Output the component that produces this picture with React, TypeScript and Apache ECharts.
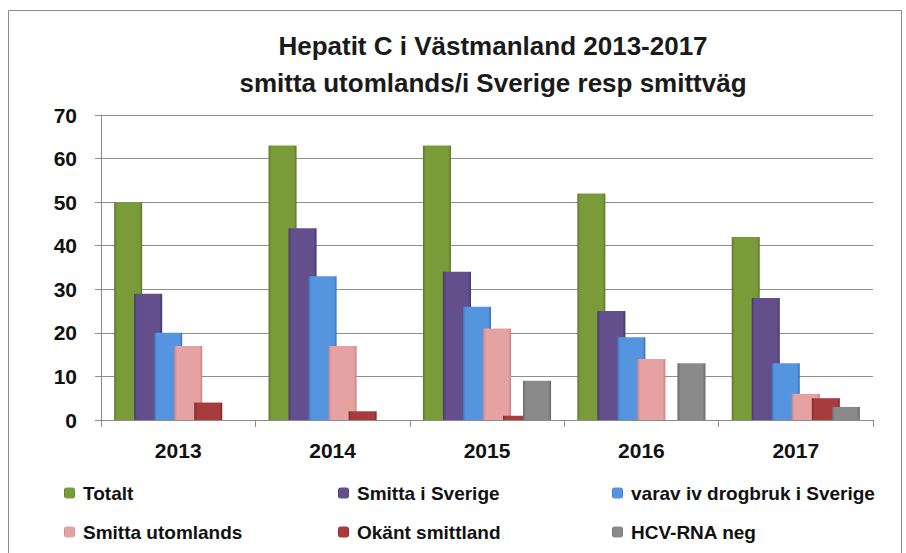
import React, { useEffect, useRef } from "react";
import * as echarts from "echarts";

const categories = ["2013", "2014", "2015", "2016", "2017"];
const seriesNames = [
  "Totalt",
  "Smitta i Sverige",
  "varav iv drogbruk i Sverige",
  "Smitta utomlands",
  "Okänt smittland",
  "HCV-RNA neg",
];
const totalt = [50, 63, 63, 52, 42];
const smittaSverige = [29, 44, 34, 25, 28];
const varavIv = [20, 33, 26, 19, 13];
const smittaUtomlands = [17, 17, 21, 14, 6];
const okantSmittland = [4, 2, 1, 0, 5];
const hcvRnaNeg = [0, 0, 9, 13, 3];
const seriesValues = [totalt, smittaSverige, varavIv, smittaUtomlands, okantSmittland, hcvRnaNeg];
const yTicks = { min: 0, max: 70, interval: 10 };

const palette = [
  { base: "#7A9B3A", dark: "#5C7828" },
  { base: "#634F8B", dark: "#47366B" },
  { base: "#5595E0", dark: "#3A74BD" },
  { base: "#E6A2A2", dark: "#C78484" },
  { base: "#A83B3B", dark: "#832828" },
  { base: "#8A8A8A", dark: "#676767" },
];

const FONT = "'Liberation Sans', Arial, sans-serif";

function barColor(i: number) {
  const p = palette[i];
  return new echarts.graphic.LinearGradient(0, 0, 1, 0, [
    { offset: 0, color: p.dark },
    { offset: 0.1, color: p.base },
    { offset: 0.9, color: p.base },
    { offset: 1, color: p.dark },
  ]);
}

export default function App() {
  const ref = useRef<HTMLDivElement>(null);
  useEffect(() => {
    if (!ref.current) return;
    const chart = echarts.init(ref.current, null, { renderer: "svg" });
    const legendGroups = [
      [seriesNames[0], seriesNames[3]],
      [seriesNames[1], seriesNames[4]],
      [seriesNames[2], seriesNames[5]],
    ];
    const legendLefts = [64, 338, 612];
    chart.setOption({
      animation: false,
      backgroundColor: "#ffffff",
      title: {
        text: "Hepatit C i Västmanland 2013-2017\nsmitta utomlands/i Sverige resp smittväg",
        left: 493,
        top: 27,
        textAlign: "center",
        padding: 0,
        textStyle: {
          fontFamily: FONT,
          fontWeight: "bold",
          fontSize: 26,
          lineHeight: 37,
          color: "#1a1a1a",
        },
      },
      graphic: [
        {
          type: "rect",
          shape: { x: 8.5, y: 10.5, width: 893, height: 600 },
          style: { fill: "none", stroke: "#8c8c8c", lineWidth: 1 },
          silent: true,
        },
      ],
      legend: legendGroups.map((g, k) => ({
        data: g,
        orient: "vertical",
        left: legendLefts[k],
        top: 483,
        width: 280,
        height: 70,
        padding: 0,
        itemWidth: 11,
        itemHeight: 11,
        itemGap: 19,
        selectedMode: false,
        textStyle: {
          fontFamily: FONT,
          fontWeight: "bold",
          fontSize: 19,
          lineHeight: 20,
          color: "#111111",
          padding: [0, 0, 0, 3],
        },
      })),
      grid: { left: 101, right: 33, top: 115, bottom: 133, containLabel: false },
      xAxis: {
        type: "category",
        data: categories,
        axisLine: { show: true, lineStyle: { color: "#8c8c8c", width: 1 } },
        axisTick: { show: true, length: 7, lineStyle: { color: "#8c8c8c" } },
        axisLabel: {
          margin: 20,
          fontFamily: FONT,
          fontWeight: "bold",
          fontSize: 21,
          color: "#111111",
        },
      },
      yAxis: {
        type: "value",
        min: yTicks.min,
        max: yTicks.max,
        interval: yTicks.interval,
        axisLine: { show: true, lineStyle: { color: "#8c8c8c", width: 1 } },
        axisTick: { show: true, inside: false, length: 6, lineStyle: { color: "#8c8c8c" } },
        splitLine: { show: true, lineStyle: { color: "#8f8f8f", width: 1 } },
        axisLabel: {
          margin: 24,
          fontFamily: FONT,
          fontWeight: "bold",
          fontSize: 21,
          color: "#111111",
        },
      },
      series: seriesNames.map((name, i) => ({
        name,
        type: "bar",
        data: seriesValues[i],
        barCategoryGap: "17%",
        barGap: "-28.6%",
        itemStyle: {
          color: barColor(i),
          borderWidth: 0,
        },
      })),
    });
    return () => chart.dispose();
  }, []);
  return (
    <div
      ref={ref}
      style={{ position: "fixed", left: 0, top: 0, width: 906, height: 553 }}
    />
  );
}
